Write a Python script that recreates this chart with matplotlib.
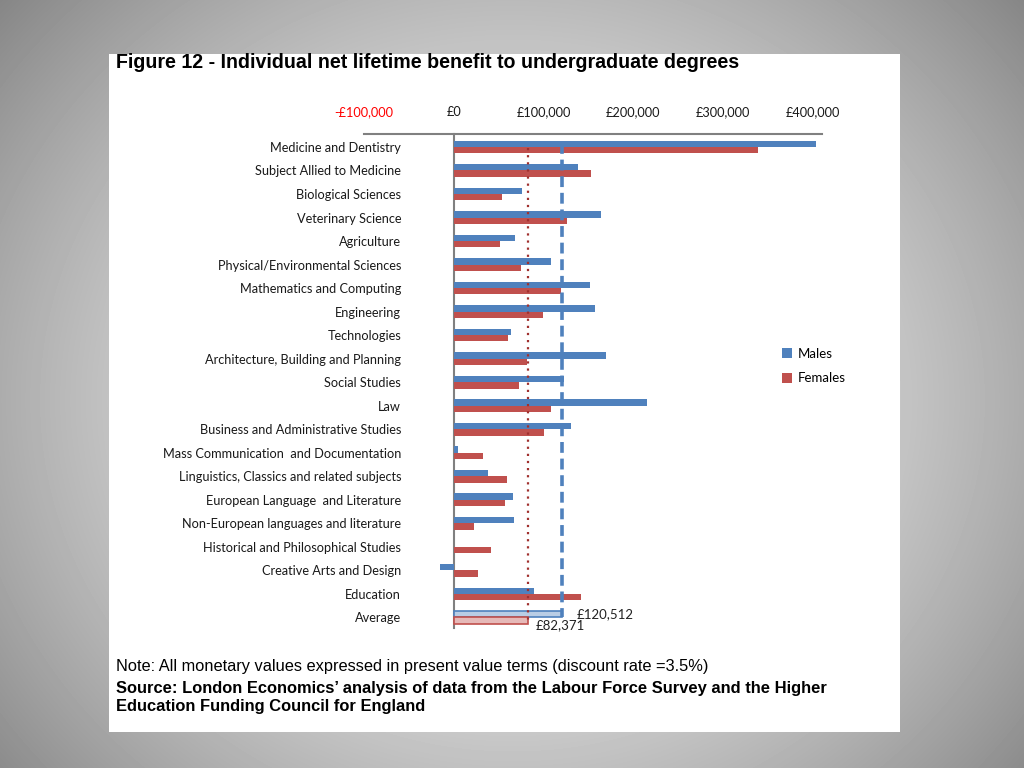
import numpy as np
import matplotlib
matplotlib.use("Agg")
import matplotlib.pyplot as plt
from matplotlib.patches import Rectangle, Patch
from matplotlib.ticker import FuncFormatter

subjects = [
    "Medicine and Dentistry",
    "Subject Allied to Medicine",
    "Biological Sciences",
    "Veterinary Science",
    "Agriculture",
    "Physical/Environmental Sciences",
    "Mathematics and Computing",
    "Engineering",
    "Technologies",
    "Architecture, Building and Planning",
    "Social Studies",
    "Law",
    "Business and Administrative Studies",
    "Mass Communication  and Documentation",
    "Linguistics, Classics and related subjects",
    "European Language  and Literature",
    "Non-European languages and literature",
    "Historical and Philosophical Studies",
    "Creative Arts and Design",
    "Education",
]
males = [403000, 138000, 76000, 164000, 68000, 108000, 152000, 157000, 64000, 169000,
         123000, 215000, 130000, 5000, 38000, 66000, 67000, 0, -15500, 89000]
females = [339000, 153000, 54000, 126000, 51000, 75000, 119000, 99000, 60000, 82000,
           73000, 108000, 100000, 33000, 59000, 57000, 22500, 41000, 26500, 142000]
avg_male = 120512
avg_female = 82371
tick_values = [-100000, 0, 100000, 200000, 300000, 400000]

BLUE = "#4F81BD"
RED = "#C0504D"
FONT = ["Lato", "DejaVu Sans"]

fig = plt.figure(figsize=(10.24, 7.68), dpi=100)

# grey radial backdrop + white slide panel
bg = fig.add_axes([0, 0, 1, 1], zorder=-10)
yy, xx = np.mgrid[0:768, 0:1024]
r = np.sqrt(((xx - 512) / 620.0) ** 2 + ((yy - 400) / 560.0) ** 2)
shade = np.clip(0.94 - 0.36 * r ** 1.6, 0.48, 0.95)
bg.imshow(shade, cmap="gray", vmin=0, vmax=1, aspect="auto", extent=[0, 1, 0, 1])
bg.add_patch(Rectangle((109 / 1024, 1 - 732 / 768), 791 / 1024, 678 / 768,
                       facecolor="white", edgecolor="none", transform=bg.transAxes))
bg.set_xlim(0, 1)
bg.set_ylim(0, 1)
bg.axis("off")

ax = fig.add_axes([364 / 1024, 1 - 628 / 768, 458 / 1024, 494 / 768])
ax.set_facecolor("none")
# spine position first: moving it resets the ticks
ax.spines["left"].set_position(("data", 0))

n = len(subjects)
y = np.arange(n)
h = 0.27
ax.barh(y - h / 2, males, height=h, color=BLUE, zorder=3)
ax.barh(y + h / 2, females, height=h, color=RED, zorder=3)

# average row
ax.barh(n - h / 2, avg_male, height=h, color="#B9CDE5", edgecolor=BLUE, linewidth=1.2, zorder=3)
ax.barh(n + h / 2, avg_female, height=h, color="#E6B9B8", edgecolor=RED, linewidth=1.2, zorder=3)

ax.plot([avg_male, avg_male], [-0.15, n], color=BLUE, linestyle=(0, (3, 1.6)), linewidth=2.6, zorder=4)
ax.plot([avg_female, avg_female], [0.05, n + h], color="#A0302E", linestyle=(0, (1, 2.2)),
        linewidth=1.6, zorder=4)

ax.text(avg_male + 16000, n - h / 2, "£120,512", ha="left", va="center",
        fontsize=9.5, family=FONT, color="#222222")
ax.text(avg_female + 9000, n + h + 0.08, "£82,371", ha="left", va="center",
        fontsize=9.5, family=FONT, color="#222222")

ax.set_xlim(-100000, 410000)
ax.set_ylim(n + 0.45, -0.55)

ax.set_yticks(list(y) + [n])
ax.set_yticklabels(subjects + ["Average"], family=FONT, fontsize=9.2, color="#1a1a1a")
ax.spines["left"].set_color("#808080")
ax.spines["left"].set_linewidth(1.5)
ax.tick_params(axis="y", length=0, pad=38)

ax.xaxis.tick_top()
ax.set_xticks(tick_values)
ax.xaxis.set_major_formatter(FuncFormatter(
    lambda v, p: ("-£{:,.0f}".format(-v) if v < 0 else "£{:,.0f}".format(v))))
ax.tick_params(axis="x", length=0, pad=11.5, labelsize=9.2)
for lbl in ax.get_xticklabels():
    lbl.set_family(FONT)
    lbl.set_color("#FF0000" if lbl.get_text().startswith("-") else "#1a1a1a")
ax.spines["top"].set_color("#808080")
ax.spines["top"].set_linewidth(1.5)
for s in ("right", "bottom"):
    ax.spines[s].set_visible(False)

handles = [Patch(facecolor=BLUE, label="Males"), Patch(facecolor=RED, label="Females")]
fig.legend(handles=handles, loc="upper left", bbox_to_anchor=(770 / 1024, 1 - 336 / 768),
           frameon=False, handlelength=0.75, handleheight=0.75, handletextpad=0.45,
           labelspacing=0.95, prop={"family": FONT, "size": 9.5})

fig.text(116 / 1024, 1 - 63 / 768,
         "Figure 12 - Individual net lifetime benefit to undergraduate degrees",
         ha="left", va="center", fontsize=14.1, fontweight="bold", family="Liberation Sans")
fig.text(116 / 1024, 1 - 667 / 768,
         "Note: All monetary values expressed in present value terms (discount rate =3.5%)",
         ha="left", va="center", fontsize=11.8, family="Liberation Sans")
fig.text(116 / 1024, 1 - 688 / 768,
         "Source: London Economics\u2019 analysis of data from the Labour Force Survey and the Higher",
         ha="left", va="center", fontsize=11.9, fontweight="bold", family="Liberation Sans")
fig.text(116 / 1024, 1 - 707 / 768,
         "Education Funding Council for England",
         ha="left", va="center", fontsize=11.9, fontweight="bold", family="Liberation Sans")

fig.savefig("out.png", dpi=100)
